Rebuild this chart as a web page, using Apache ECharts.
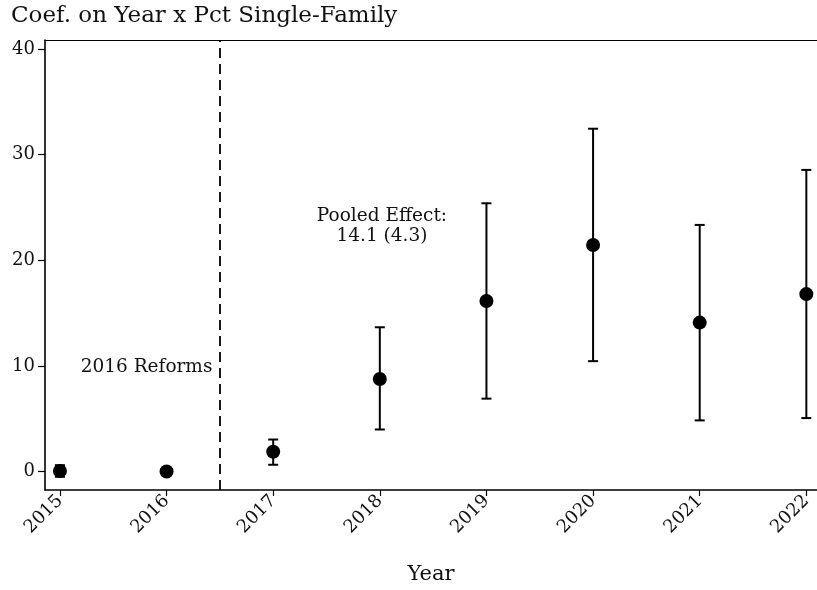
<!DOCTYPE html>
<html>
<head>
<meta charset="utf-8">
<script src="https://cdn.jsdelivr.net/npm/echarts@6/dist/echarts.min.js"></script>
<style>
  html, body { margin: 0; padding: 0; background: #fff; }
  #chart { width: 817px; height: 590px; }
</style>
</head>
<body>
<div id="chart"></div>
<script>
// Event-study estimates: coefficient on Year x Pct Single-Family
const years = [2015, 2016, 2017, 2018, 2019, 2020, 2021, 2022];
const coef  = [0.06, 0, 1.87, 8.76, 16.15, 21.45, 14.1, 16.8];
const ciLow = [-0.5, null, 0.64, 3.98, 6.9, 10.45, 4.84, 5.06];
const ciHigh = [0.6, null, 3.03, 13.66, 25.4, 32.46, 23.35, 28.56];
const yTicks = [0, 10, 20, 30, 40];
const reformYear = 2016.5;
const reformLabel = '2016 Reforms';
const pooledLabel = ['Pooled Effect:', '14.1 (4.3)'];
const pooledPos = [2018.02, 23.2];
const reformLabelPos = [2016.43, 9.9];

const FONT = 'DejaVu Serif';
const INK = '#111';

const pointData = years.map((y, i) => [y, coef[i]]);
const errData = years
  .map((y, i) => [y, ciLow[i], ciHigh[i]])
  .filter(d => d[1] !== null && d[2] !== null);

const chart = echarts.init(document.getElementById('chart'));

chart.setOption({
  animation: false,
  backgroundColor: '#fff',
  title: {
    text: 'Coef. on Year x Pct Single-Family',
    left: 6,
    top: 0,
    textStyle: { fontFamily: FONT, fontSize: 23, fontWeight: 'normal', color: INK }
  },
  grid: { left: 45, right: 0, top: 40, bottom: 87, containLabel: false },
  xAxis: [{
    type: 'value',
    min: 2014.86,
    max: 2022.1,
    name: 'Year',
    nameLocation: 'middle',
    nameGap: 74,
    nameTextStyle: { fontFamily: FONT, fontSize: 21, color: INK },
    axisLine: { show: true, onZero: false, lineStyle: { color: '#000', width: 1.6 } },
    axisTick: { show: true, length: 6, customValues: years, lineStyle: { color: '#000', width: 1.2 } },
    axisLabel: {
      customValues: years,
      rotate: 45,
      margin: 8,
      fontFamily: FONT, fontSize: 18, color: INK,
      formatter: v => String(Math.round(v))
    },
    splitLine: { show: false }
  }, {
    type: 'value',
    position: 'top',
    min: 2014.86,
    max: 2022.1,
    axisLine: { show: true, onZero: false, lineStyle: { color: '#000', width: 1.2 } },
    axisTick: { show: false },
    axisLabel: { show: false },
    splitLine: { show: false }
  }],
  yAxis: {
    type: 'value',
    min: -1.75,
    max: 40.86,
    axisLine: { show: true, onZero: false, lineStyle: { color: '#000', width: 1.6 } },
    axisTick: { show: true, length: 7, customValues: yTicks, lineStyle: { color: '#000', width: 1.2 } },
    axisLabel: {
      customValues: yTicks,
      margin: 10,
      fontFamily: FONT, fontSize: 18, color: INK
    },
    splitLine: { show: false }
  },
  series: [
    {
      type: 'custom',
      name: 'ci',
      data: errData,
      encode: { x: 0, y: [1, 2] },
      renderItem: function (params, api) {
        const x = api.value(0);
        const lo = api.coord([x, api.value(1)]);
        const hi = api.coord([x, api.value(2)]);
        const hw = 5;
        const style = { stroke: '#000', lineWidth: 2 };
        return {
          type: 'group',
          children: [
            { type: 'line', shape: { x1: hi[0], y1: hi[1], x2: lo[0], y2: lo[1] }, style },
            { type: 'line', shape: { x1: hi[0] - hw, y1: hi[1], x2: hi[0] + hw, y2: hi[1] }, style },
            { type: 'line', shape: { x1: lo[0] - hw, y1: lo[1], x2: lo[0] + hw, y2: lo[1] }, style }
          ]
        };
      },
      z: 2
    },
    {
      type: 'scatter',
      name: 'coef',
      data: pointData,
      symbol: 'circle',
      symbolSize: 14,
      itemStyle: { color: '#000', opacity: 1 },
      z: 3,
      markLine: {
        silent: true,
        symbol: ['none', 'none'],
        label: { show: false },
        lineStyle: { color: '#000', width: 1.8, type: [10, 6], opacity: 1 },
        data: [{ xAxis: reformYear }]
      }
    },
    {
      type: 'scatter',
      name: 'notes',
      symbolSize: 0,
      silent: true,
      itemStyle: { opacity: 1 },
      data: [
        { value: reformLabelPos, label: { formatter: reformLabel, position: 'left', distance: 0, align: 'right' } },
        { value: pooledPos, label: { formatter: pooledLabel.join('\n'), position: 'inside', align: 'center', lineHeight: 20 } }
      ],
      label: { show: true, fontFamily: FONT, fontSize: 18.5, color: INK, opacity: 1 }
    }
  ]
});
</script>
</body>
</html>
